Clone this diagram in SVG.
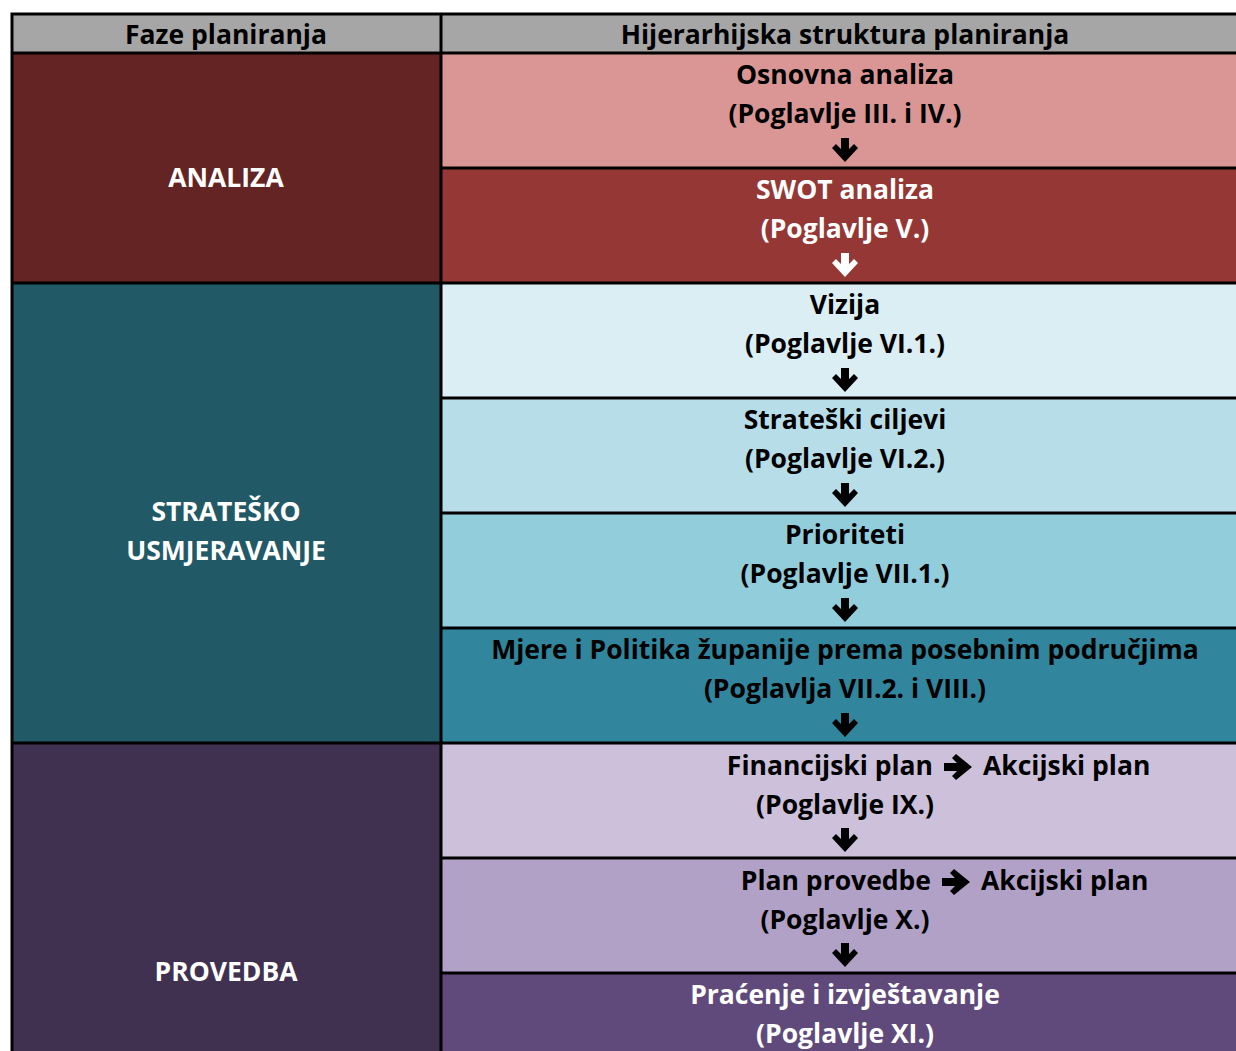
<svg xmlns="http://www.w3.org/2000/svg" width="1236" height="1051" viewBox="0 0 1236 1051">
<style>
text{font-family:"Open Sans","Noto Sans","Liberation Sans",sans-serif;font-weight:700;font-size:26.5px;text-anchor:middle;dominant-baseline:central}
.w{fill:#fff}
.k{fill:#000}
.s{text-anchor:start}
.e{text-anchor:end}
.ln{stroke:#000;stroke-width:3;fill:none}
</style>
<defs>
<path id="da" d="M-4,-12 L4,-12 L4,-1 L9,-6 L13,-2 L0,12 L-13,-2 L-9,-6 L-4,-1 Z"/>
<path id="ra" d="M-14,-4 L-1,-4 L-6,-9 L-2,-13 L14,0 L-2,13 L-6,9 L-1,4 L-14,4 Z"/>
</defs>
<rect x="0" y="0" width="1236" height="1051" fill="#fff"/>
<g id="header">
<rect x="12" y="14" width="1224" height="39" fill="#A6A6A6"/>
<text x="226" y="34" class="k">Faze planiranja</text>
<text x="845" y="34" class="k">Hijerarhijska struktura planiranja</text>
</g>
<g id="phase-analiza">
<rect x="12" y="53" width="429" height="230" fill="#632423"/>
<text x="226" y="177" class="w">ANALIZA</text>
</g>
<g id="phase-strategija">
<rect x="12" y="283" width="429" height="460" fill="#215967"/>
<text x="226" y="511" class="w">STRATEŠKO</text>
<text x="226" y="550" class="w">USMJERAVANJE</text>
</g>
<g id="phase-provedba">
<rect x="12" y="743" width="429" height="320" fill="#403151"/>
<text x="226" y="971" class="w">PROVEDBA</text>
</g>
<g id="n1">
<rect x="441" y="53" width="795" height="115" fill="#D99694"/>
<text x="845" y="74" class="k">Osnovna analiza</text>
<text x="845" y="113" class="k">(Poglavlje III. i IV.)</text>
<use href="#da" x="845" y="150" class="k"/>
</g>
<g id="n2">
<rect x="441" y="168" width="795" height="115" fill="#953735"/>
<text x="845" y="189" class="w">SWOT analiza</text>
<text x="845" y="228" class="w">(Poglavlje V.)</text>
<use href="#da" x="845" y="265" class="w"/>
</g>
<g id="n3">
<rect x="441" y="283" width="795" height="115" fill="#DAEEF3"/>
<text x="845" y="304" class="k">Vizija</text>
<text x="845" y="343" class="k">(Poglavlje VI.1.)</text>
<use href="#da" x="845" y="380" class="k"/>
</g>
<g id="n4">
<rect x="441" y="398" width="795" height="115" fill="#B7DEE8"/>
<text x="845" y="419" class="k">Strateški ciljevi</text>
<text x="845" y="458" class="k">(Poglavlje VI.2.)</text>
<use href="#da" x="845" y="495" class="k"/>
</g>
<g id="n5">
<rect x="441" y="513" width="795" height="115" fill="#92CDDC"/>
<text x="845" y="534" class="k">Prioriteti</text>
<text x="845" y="573" class="k">(Poglavlje VII.1.)</text>
<use href="#da" x="845" y="610" class="k"/>
</g>
<g id="n6">
<rect x="441" y="628" width="795" height="115" fill="#31859C"/>
<text x="845" y="649" class="k">Mjere i Politika županije prema posebnim područjima</text>
<text x="845" y="688" class="k">(Poglavlja VII.2. i VIII.)</text>
<use href="#da" x="845" y="725" class="k"/>
</g>
<g id="n7">
<rect x="441" y="743" width="795" height="115" fill="#CCC0DA"/>
<text x="933" y="765" class="k e">Financijski plan</text>
<use href="#ra" x="958" y="767" class="k"/>
<text x="983" y="765" class="k s">Akcijski plan</text>
<text x="845" y="804" class="k">(Poglavlje IX.)</text>
<use href="#da" x="845" y="840" class="k"/>
</g>
<g id="n8">
<rect x="441" y="858" width="795" height="115" fill="#B2A1C7"/>
<text x="931" y="880" class="k e">Plan provedbe</text>
<use href="#ra" x="956" y="882" class="k"/>
<text x="981" y="880" class="k s">Akcijski plan</text>
<text x="845" y="919" class="k">(Poglavlje X.)</text>
<use href="#da" x="845" y="955" class="k"/>
</g>
<g id="n9">
<rect x="441" y="973" width="795" height="90" fill="#604A7B"/>
<text x="845" y="994" class="w">Praćenje i izvještavanje</text>
<text x="845" y="1033" class="w">(Poglavlje XI.)</text>
</g>
<g id="connectors">
<path class="ln" d="M12,14 H1236 M12,53 H1236 M12,12.5 V1051 M441,14 V1051"/>
<path class="ln" d="M441,168 H1236 M12,283 H1236 M441,398 H1236 M441,513 H1236 M441,628 H1236 M12,743 H1236 M441,858 H1236 M441,973 H1236"/>
</g>
</svg>
